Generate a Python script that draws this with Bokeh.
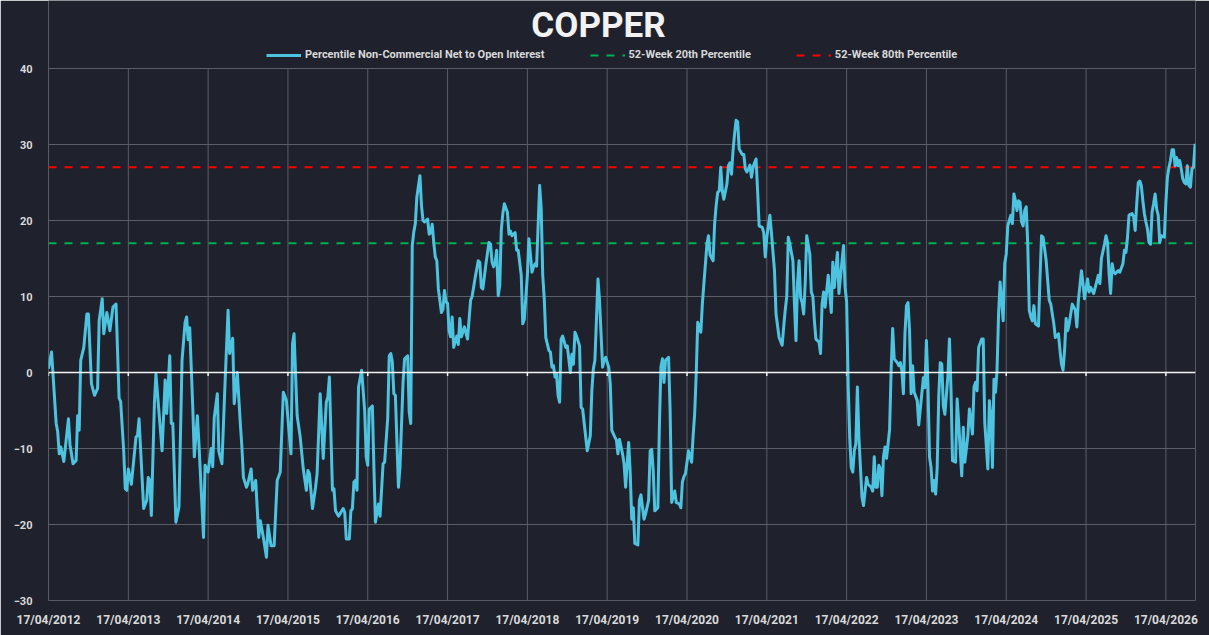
from bokeh.plotting import figure
from bokeh.models import Range1d, FixedTicker, Span, Legend, LegendItem, Label
from bokeh.embed import file_html
from bokeh.resources import INLINE

title_text = "COPPER"
series_name = "Percentile Non-Commercial Net to Open Interest"
p20_name = "52-Week 20th Percentile"
p80_name = "52-Week 80th Percentile"
p20_level = 17.0
p80_level = 27.0
tick_labels = ["17/04/2012", "17/04/2013", "17/04/2014", "17/04/2015", "17/04/2016",
               "17/04/2017", "17/04/2018", "17/04/2019", "17/04/2020", "17/04/2021",
               "17/04/2022", "17/04/2023", "17/04/2024", "17/04/2025", "17/04/2026"]
weeks_per_tick = 52
y_ticks = [-30, -20, -10, 0, 10, 20, 30, 40]

# week number since 17/04/2012 and value
weeks = [
    0, 2, 5, 6, 7, 8, 10, 13, 14, 16, 18, 19, 20, 21, 23, 25, 26, 28, 30, 32,
    33, 35, 36, 38, 40, 42, 44, 46, 47, 49, 50, 51, 52, 54, 57, 58, 59, 62, 64, 65,
    66, 67, 69, 70, 74, 76, 77, 79, 80, 81, 83, 85, 87, 89, 90, 91, 92, 94, 95, 97,
    98, 101, 102, 104, 106, 107, 108, 110, 111, 113, 115, 117, 118, 120, 121, 123, 125, 126, 127, 129,
    130, 132, 133, 135, 137, 138, 140, 142, 143, 145, 147, 149, 151, 153, 155, 158, 159, 160, 162, 164,
    166, 168, 169, 170, 172, 174, 175, 177, 179, 181, 182, 183, 185, 186, 187, 189, 192, 193, 194, 196,
    197, 198, 199, 200, 201, 202, 204, 206, 207, 208, 209, 211, 212, 213, 215, 216, 218, 219, 221, 222,
    223, 224, 225, 226, 228, 229, 231, 232, 234, 235, 236, 237, 238, 239, 240, 242, 243, 244, 245, 247,
    248, 249, 250, 251, 252, 253, 254, 256, 257, 258, 259, 260, 261, 262, 263, 264, 266, 267, 268, 269,
    271, 273, 275, 276, 278, 280, 281, 282, 283, 285, 287, 288, 289, 290, 291, 292, 293, 294, 295, 296,
    297, 299, 300, 301, 302, 304, 305, 306, 308, 309, 310, 312, 313, 314, 315, 316, 317, 318, 320, 321,
    322, 323, 324, 326, 327, 328, 329, 330, 331, 332, 333, 334, 335, 337, 338, 340, 341, 342, 343, 344,
    346, 347, 348, 351, 353, 354, 355, 356, 358, 359, 361, 362, 363, 365, 366, 367, 369, 370, 371, 372,
    374, 375, 376, 378, 379, 380, 381, 382, 384, 385, 386, 388, 389, 391, 392, 393, 394, 395, 397, 398,
    399, 400, 401, 402, 404, 405, 406, 408, 409, 411, 412, 413, 414, 415, 417, 419, 420, 421, 422, 423,
    425, 426, 427, 429, 430, 431, 433, 434, 435, 436, 437, 438, 439, 440, 442, 443, 444, 445, 446, 447,
    448, 449, 450, 452, 453, 454, 455, 456, 457, 458, 459, 460, 461, 462, 463, 465, 466, 467, 468, 470,
    471, 473, 474, 476, 478, 479, 480, 481, 482, 483, 485, 486, 487, 488, 489, 490, 491, 492, 493, 494,
    496, 497, 498, 499, 500, 502, 503, 504, 505, 506, 508, 510, 511, 512, 514, 515, 517, 518, 519, 520,
    521, 522, 523, 524, 525, 526, 527, 528, 530, 531, 533, 534, 536, 537, 538, 539, 540, 541, 542, 543,
    544, 545, 546, 548, 549, 550, 551, 553, 554, 555, 556, 557, 558, 559, 560, 561, 562, 563, 564, 566,
    567, 568, 570, 571, 572, 573, 574, 575, 576, 577, 578, 579, 580, 581, 582, 583, 584, 586, 587, 588,
    589, 591, 592, 593, 595, 596, 597, 599, 600, 602, 603, 604, 605, 606, 608, 609, 610, 612, 613, 614,
    615, 616, 617, 618, 619, 620, 622, 623, 624, 625, 626, 627, 628, 629, 630, 631, 632, 633, 634, 635,
    636, 637, 638, 639, 640, 641, 642, 643, 645, 646, 647, 648, 650, 651, 652, 653, 655, 656, 657, 658,
    659, 660, 661, 662, 663, 664, 665, 667, 669, 670, 671, 673, 674, 675, 677, 678, 679, 681, 682, 684,
    685, 686, 688, 689, 690, 691, 692, 693, 694, 695, 697, 698, 700, 701, 702, 703, 704, 706, 707, 708,
    709, 710, 711, 712, 713, 714, 715, 716, 717, 718, 719, 720, 721, 722, 723, 724, 725, 727, 728, 729,
    730, 731, 732, 733, 734, 735, 736, 737, 738, 739, 740, 741, 742, 743, 744, 745, 746, 747,
]
values = [
    0.5, 2.7, -6.7, -7.8, -10.7, -9.8, -11.7, -6.1, -9.5, -12.0, -11.6, -5.7, -7.6, 1.6, 3.3, 7.7, 7.7, -1.5, -3.0, -2.1,
    6.8, 9.7, 5.1, 7.9, 5.5, 8.6, 9.0, -3.4, -3.8, -10.3, -15.3, -15.5, -12.7, -14.7, -8.5, -8.3, -6.1, -17.9, -16.8, -13.8,
    -14.2, -18.8, -4.1, -0.2, -10.3, -1.0, -5.4, 2.2, -6.7, -6.7, -19.7, -17.7, 1.6, 6.6, 7.3, 4.3, 5.9, -4.6, -11.1, -5.7,
    -9.3, -21.7, -12.2, -13.1, -10.0, -12.4, -5.9, -2.8, -10.4, -12.0, -1.5, 8.2, 2.5, 4.5, -4.1, 0.0, -6.8, -9.8, -13.8, -15.1,
    -14.5, -12.7, -15.5, -14.2, -21.7, -19.5, -21.7, -24.3, -20.1, -22.8, -22.8, -14.2, -13.1, -2.6, -3.7, -10.7, 3.8, 5.1, -5.7, -8.5,
    -12.7, -15.5, -12.9, -13.3, -17.9, -15.1, -13.3, -2.8, -11.3, -3.9, -3.2, -0.6, -15.5, -15.3, -18.2, -18.9, -17.9, -18.4, -21.9, -21.9,
    -18.2, -17.9, -14.4, -14.2, -15.5, -1.9, 0.3, -5.0, -11.1, -12.2, -4.8, -4.4, -12.4, -19.7, -17.3, -18.9, -12.0, -11.8, -6.0, 2.2,
    2.5, 1.4, -2.8, -3.0, -15.1, -12.5, -1.3, 1.8, 2.2, -5.2, -6.7, 16.7, 18.5, 19.6, 23.1, 25.9, 22.0, 20.0, 19.8, 20.2,
    18.2, 18.4, 19.5, 17.1, 15.2, 14.7, 11.0, 7.9, 8.3, 10.8, 9.3, 9.1, 5.5, 4.7, 7.3, 3.3, 4.8, 3.7, 7.1, 4.7,
    6.0, 4.4, 9.5, 10.0, 12.5, 14.7, 14.5, 11.2, 11.0, 14.3, 17.1, 16.9, 14.5, 13.9, 14.5, 16.1, 10.1, 11.4, 18.7, 20.9,
    22.2, 21.1, 18.2, 18.6, 18.0, 18.4, 16.1, 16.1, 12.8, 6.4, 7.0, 12.8, 17.6, 15.5, 13.2, 13.9, 14.3, 14.0, 24.6, 21.6,
    12.8, 9.7, 4.6, 2.9, 2.7, 0.7, 0.9, -0.6, -0.2, -3.0, -3.9, 4.4, 4.8, 3.3, 3.5, 0.0, 2.4, 1.1, 5.3, 4.8,
    3.5, -4.6, -4.8, -10.3, -8.3, -2.4, 0.5, 1.6, 12.3, 9.5, 0.7, 1.6, 2.0, 0.7, -1.5, -7.6, -8.5, -8.9, -10.7, -8.8,
    -10.7, -12.0, -15.1, -9.2, -13.2, -19.3, -17.8, -22.5, -22.7, -16.8, -16.1, -19.3, -18.6, -16.8, -10.3, -10.1, -12.9, -18.2, -17.8, -7.2,
    0.7, 1.8, -1.3, 1.6, 2.0, -5.0, -17.1, -15.6, -17.1, -17.3, -17.8, -14.4, -13.7, -13.3, -10.3, -11.8, -8.3, -5.4, -0.2, 6.6,
    5.3, 9.0, 11.7, 16.9, 18.0, 15.5, 14.7, 19.6, 22.0, 23.7, 23.9, 27.0, 23.9, 22.8, 24.8, 27.2, 27.6, 26.1, 29.2, 31.4,
    33.2, 33.0, 29.4, 28.7, 28.7, 26.8, 26.4, 26.8, 27.3, 25.7, 27.0, 27.6, 28.1, 23.9, 19.3, 19.1, 18.4, 15.2, 17.8, 20.7,
    18.4, 13.4, 7.7, 4.6, 3.6, 6.0, 8.2, 10.0, 17.8, 16.9, 14.7, 9.0, 4.2, 11.7, 14.7, 9.9, 9.2, 7.7, 11.7, 18.0,
    15.6, 10.6, 10.0, 6.8, 4.4, 4.0, 2.5, 9.0, 10.6, 8.6, 12.8, 7.9, 14.5, 11.2, 15.8, 10.4, 14.7, 16.7, 11.2, 9.3,
    -1.5, -8.5, -12.5, -13.1, -10.3, -9.4, -1.9, -8.5, -16.4, -17.5, -13.8, -14.7, -15.1, -15.6, -11.1, -15.1, -15.1, -12.2, -12.7, -16.2,
    -11.1, -9.8, -11.3, -7.5, 0.3, 5.8, 1.8, 1.3, 0.9, 1.3, 0.2, -2.8, 5.1, 8.8, 9.2, 5.5, -2.8, 0.9, -2.6, -3.7,
    -6.9, -4.8, -0.7, -2.0, 4.2, -1.7, -11.1, -12.5, -15.6, -14.2, -16.0, -12.5, -3.3, 1.3, 1.1, -4.4, -5.5, -0.4, 4.4, -2.2,
    -11.6, -11.8, -3.5, -6.6, -13.6, -7.2, -11.8, -8.3, -4.8, -8.1, -1.9, -1.3, -2.4, 3.3, 4.4, 4.4, -6.6, -12.7, -3.7, -5.7,
    -12.5, -0.9, -2.6, 0.3, 7.7, 11.9, 6.8, 14.3, 15.6, 19.3, 20.0, 20.7, 19.6, 23.5, 22.6, 21.3, 22.6, 22.4, 19.8, 19.3,
    21.3, 21.8, 16.9, 8.2, 7.3, 6.8, 8.8, 6.4, 6.1, 12.5, 18.0, 17.8, 14.7, 12.1, 9.5, 9.0, 6.4, 4.6, 4.8, 5.1,
    2.9, 1.1, 0.3, 2.9, 7.1, 5.5, 6.4, 9.0, 8.2, 6.0, 9.5, 13.4, 11.7, 9.7, 12.3, 10.6, 11.2, 10.4, 11.2, 12.8,
    11.7, 15.0, 16.9, 18.0, 17.1, 13.0, 10.4, 14.3, 13.2, 13.0, 13.4, 13.2, 14.3, 16.1, 15.8, 17.8, 20.7, 20.9, 20.5, 18.7,
    22.2, 25.0, 25.2, 24.6, 22.6, 20.9, 19.8, 18.9, 17.1, 16.9, 21.1, 22.2, 23.5, 21.5, 20.7, 17.1, 18.0, 17.8, 22.4, 25.7,
    27.0, 27.9, 29.3, 29.3, 27.2, 28.3, 27.2, 27.9, 26.8, 25.5, 25.0, 24.8, 27.2, 24.6, 24.4, 26.8, 27.0, 30.1,
]

BG = "#1f222d"
GRID = "#5a5e66"
TXT = "#d9d9d9"
FONT = "Roboto"
Y_MIN, Y_MAX = y_ticks[0], y_ticks[-1]

# frame covers the whole top area (title + legend live inside it, above the 40 line)
p = figure(width=1209, height=635, output_backend="svg", toolbar_location=None,
           x_range=Range1d(0, 747.3), y_range=Range1d(Y_MIN, 48.95),
           min_border_left=48, min_border_right=14, min_border_top=0, min_border_bottom=35,
           background_fill_color=BG, border_fill_color=BG)
p.outline_line_color = None

tick_pos = [i * weeks_per_tick for i in range(len(tick_labels))]
p.xaxis.ticker = FixedTicker(ticks=tick_pos)
p.xaxis.major_label_overrides = {t: l for t, l in zip(tick_pos, tick_labels)}
p.yaxis.ticker = FixedTicker(ticks=y_ticks)
p.ygrid.ticker = FixedTicker(ticks=y_ticks)
p.xgrid.visible = False

for ax in (p.xaxis, p.yaxis):
    ax.axis_line_color = None
    ax.major_tick_line_color = None
    ax.minor_tick_line_color = None
    ax.major_label_text_color = TXT
    ax.major_label_text_font = FONT
    ax.major_label_text_font_style = "bold"
p.xaxis.major_label_text_font_size = "12px"
p.yaxis.major_label_text_font_size = "11px"
p.xaxis.major_label_standoff = 6
p.yaxis.major_label_standoff = 10

p.ygrid.grid_line_color = GRID
p.ygrid.grid_line_width = 1

# vertical grid lines only between the axis limits
p.segment(x0=tick_pos, y0=[Y_MIN] * len(tick_pos), x1=tick_pos, y1=[Y_MAX] * len(tick_pos),
          line_color=GRID, line_width=1)

p.add_layout(Span(location=0, dimension="width", line_color="#f2f2f2", line_width=1.5))
p.segment(x0=tick_pos, y0=[0] * len(tick_pos), x1=tick_pos, y1=[-0.45] * len(tick_pos),
          line_color="#f2f2f2", line_width=1.5)

r20 = p.line([weeks[0], weeks[-1]], [p20_level, p20_level], line_color="#00b050",
             line_width=2, line_dash="8 8")
r80 = p.line([weeks[0], weeks[-1]], [p80_level, p80_level], line_color="#ff0000",
             line_width=2, line_dash="8 8")
rs = p.line(weeks, values, line_color="#4ec3e0", line_width=3, line_join="round")

legend = Legend(items=[LegendItem(label=series_name, renderers=[rs]),
                       LegendItem(label=p20_name, renderers=[r20]),
                       LegendItem(label=p80_name, renderers=[r80])],
                orientation="horizontal", location=(218, 539),
                background_fill_alpha=0, border_line_color=None,
                padding=0, margin=0, spacing=45, label_standoff=4,
                glyph_width=35, glyph_height=12,
                label_text_font=FONT, label_text_font_size="11px",
                label_text_font_style="bold", label_text_color=TXT)
p.add_layout(legend)

p.add_layout(Label(x=550, y=575, x_units="screen", y_units="screen", text=title_text,
                   text_align="center", text_baseline="alphabetic", text_font=FONT,
                   text_font_size="35px", text_font_style="bold", text_color="#f2f2f2"))

open("out.html", "w").write(file_html(p, INLINE))
